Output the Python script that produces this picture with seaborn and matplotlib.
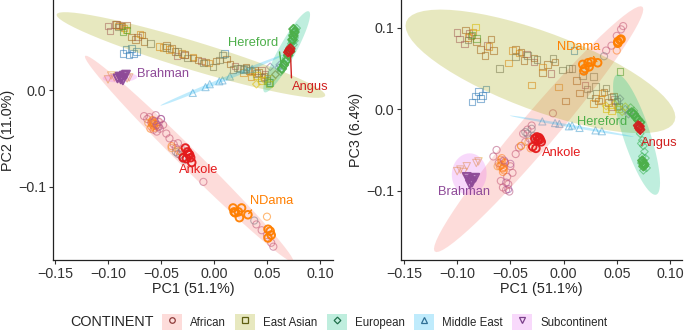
import numpy as np
import pandas as pd
import matplotlib
matplotlib.use("Agg")
import matplotlib.pyplot as plt
import seaborn as sns
from matplotlib.patches import Rectangle
from matplotlib.lines import Line2D
from matplotlib.legend_handler import HandlerTuple

sns.set_style("ticks")
plt.rcParams["font.family"] = ["Liberation Sans", "DejaVu Sans"]
plt.rcParams["axes.unicode_minus"] = True

# ---------------- data ----------------
continents = ["African", "East Asian", "European", "Middle East", "Subcontinent"]

# African
ndama_pc1 = [0.018, 0.020, 0.023, 0.024, 0.026, 0.019, 0.032, 0.051, 0.053, 0.051, 0.054]
ndama_pc2 = [-0.122, -0.127, -0.126, -0.132, -0.122, -0.126, -0.129, -0.144, -0.146, -0.153, -0.150]
ndama_pc3 = [0.055, 0.050, 0.057, 0.052, 0.058, 0.047, 0.057, 0.083, 0.085, 0.081, 0.086]

ankole_pc1 = [-0.029, -0.027, -0.026, -0.025, -0.024, -0.023, -0.022, -0.021]
ankole_pc2 = [-0.070, -0.060, -0.071, -0.064, -0.066, -0.067, -0.070, -0.075]
ankole_pc3 = [-0.046, -0.036, -0.048, -0.034, -0.038, -0.035, -0.037, -0.040]

afr_mauve_pc1 = [-0.066, -0.063, -0.061, -0.059, -0.057, -0.055, -0.054, -0.053, -0.052, -0.051, -0.050, -0.048,
                 -0.045, -0.042, -0.038, -0.036, -0.034, -0.032, -0.030, -0.010, 0.040, 0.045, 0.050, 0.054, 0.056]
afr_mauve_pc2 = [-0.027, -0.030, -0.028, -0.034, -0.041, -0.026, -0.043, -0.038, -0.033, -0.040, -0.030, -0.036,
                 -0.045, -0.050, -0.056, -0.060, -0.055, -0.067, -0.062, -0.095, -0.139, -0.145, -0.150, -0.158, -0.162]
afr_mauve_pc3 = [-0.058, -0.050, -0.066, -0.088, -0.096, -0.065, -0.099, -0.083, -0.092, -0.101, -0.070, -0.078,
                 -0.055, -0.047, -0.030, -0.040, -0.025, -0.036, -0.020, -0.005, 0.072, 0.078, 0.090, 0.098, 0.102]

afr_orange_pc1 = [-0.059, -0.058, -0.057, -0.056, -0.060, -0.058, -0.055, -0.057, -0.059, -0.058, -0.056, -0.057, -0.040, -0.031, 0.050]
afr_orange_pc2 = [-0.033, -0.036, -0.034, -0.039, -0.040, -0.031, -0.037, -0.035, -0.038, -0.032, -0.035, -0.037, -0.058, -0.064, -0.131]
afr_orange_pc3 = [-0.062, -0.068, -0.072, -0.075, -0.070, -0.060, -0.066, -0.073, -0.069, -0.064, -0.071, -0.077, -0.045, -0.048, 0.072]

afr_purple_pc1 = [-0.056, -0.054, -0.052, -0.050]
afr_purple_pc2 = [-0.032, -0.036, -0.038, -0.030]
afr_purple_pc3 = [-0.063, -0.090, -0.098, -0.067]

afr_grey_pc1 = [-0.036, -0.034, -0.030, -0.028, 0.038]
afr_grey_pc2 = [-0.064, -0.066, -0.070, -0.072, -0.135]
afr_grey_pc3 = [-0.028, -0.030, -0.024, -0.033, 0.065]

afr_yellow_pc1 = [-0.040, -0.033, -0.062]
afr_yellow_pc2 = [-0.060, -0.063, -0.034]
afr_yellow_pc3 = [-0.045, -0.040, -0.070]

# East Asian
ea_mauve_pc1 = [-0.100, -0.098, -0.093, -0.089, -0.072, -0.035, 0.045, 0.048, 0.020, -0.028, -0.012]
ea_mauve_pc2 = [0.066, 0.061, 0.068, 0.067, 0.055, 0.035, 0.020, 0.016, 0.025, 0.036, 0.030]
ea_mauve_pc3 = [0.094, 0.086, 0.080, 0.093, 0.078, 0.068, 0.003, 0.012, 0.030, 0.058, 0.044]

ea_brown_pc1 = [-0.092, -0.087, -0.082, -0.078, -0.074, -0.068, -0.066, -0.045, -0.040, -0.037, -0.028, -0.020,
                0.002, 0.012, 0.030, 0.038, 0.015, 0.033, 0.042, 0.047, -0.015, -0.008]
ea_brown_pc2 = [0.068, 0.066, 0.067, 0.055, 0.052, 0.057, 0.050, 0.046, 0.043, 0.040, 0.037, 0.033,
                0.030, 0.032, 0.024, 0.020, 0.027, 0.020, 0.018, 0.014, 0.031, 0.029]
ea_brown_pc3 = [0.097, 0.090, 0.083, 0.073, 0.066, 0.086, 0.072, 0.073, 0.070, 0.060, 0.063, 0.045,
                0.010, 0.035, 0.014, 0.021, 0.020, 0.010, 0.008, 0.016, 0.055, 0.058]

ea_orange_pc1 = [-0.090, -0.085, -0.070, -0.052, -0.048, -0.042, -0.030, -0.005, 0.028, 0.035, 0.050, 0.036, -0.020]
ea_orange_pc2 = [0.066, 0.064, 0.058, 0.045, 0.044, 0.042, 0.038, 0.028, 0.018, 0.014, 0.012, 0.019, 0.034]
ea_orange_pc3 = [0.088, 0.095, 0.077, 0.057, 0.072, 0.069, 0.030, 0.027, 0.007, 0.012, 0.003, 0.020, 0.052]

ea_grey_pc1 = [-0.090, -0.060, -0.034, -0.025, -0.010, -0.001, 0.008, 0.018, 0.022, 0.040, 0.052, 0.025, 0.045,
               0.005, 0.028, 0.050, 0.030, -0.045]
ea_grey_pc2 = [0.065, 0.048, 0.040, 0.033, 0.028, 0.024, 0.036, 0.021, 0.023, 0.017, 0.008, 0.022, 0.013,
               0.031, 0.021, 0.010, 0.022, 0.044]
ea_grey_pc3 = [0.085, 0.050, 0.066, 0.061, 0.062, 0.048, 0.050, 0.041, 0.025, 0.026, 0.004, 0.018, 0.015,
               0.050, 0.040, 0.010, 0.028, 0.064]

ea_yellow_pc1 = [-0.083, 0.040, 0.045, 0.052]
ea_yellow_pc2 = [0.062, 0.015, 0.010, 0.006]
ea_yellow_pc3 = [0.101, 0.001, -0.002, 0.000]

ea_green_pc1 = [-0.082, -0.086, 0.053]
ea_green_pc2 = [0.062, 0.060, 0.008]
ea_green_pc3 = [0.087, 0.091, 0.046]

ea_blue_pc1 = [-0.086, -0.083, -0.080, -0.078, -0.076, -0.073, 0.010]
ea_blue_pc2 = [0.038, 0.042, 0.036, 0.043, 0.038, 0.040, 0.038]
ea_blue_pc3 = [0.009, 0.016, 0.022, 0.013, 0.017, 0.025, 0.072]

# European
hereford_pc1 = [0.064, 0.066, 0.068, 0.070, 0.072, 0.074, 0.075, 0.076, 0.075]
hereford_pc2 = [0.022, 0.026, 0.030, 0.036, 0.040, 0.052, 0.056, 0.060, 0.063]
hereford_pc3 = [-0.004, -0.006, -0.010, -0.013, -0.016, -0.063, -0.066, -0.068, -0.070]

angus_pc1 = [0.070, 0.071, 0.072, 0.0715]
angus_pc2 = [0.039, 0.041, 0.043, 0.040]
angus_pc3 = [-0.020, -0.023, -0.025, -0.021]

eu_green_pc1 = [0.072, 0.074, 0.075, 0.076, 0.077, 0.074, 0.073, 0.075, 0.076, 0.078, 0.073, 0.074, 0.076, 0.075,
                0.066, 0.068, 0.063, 0.070]
eu_green_pc2 = [0.045, 0.050, 0.055, 0.058, 0.062, 0.052, 0.048, 0.060, 0.054, 0.064, 0.042, 0.057, 0.051, 0.047,
                0.028, 0.033, 0.019, 0.036]
eu_green_pc3 = [-0.030, -0.038, -0.045, -0.052, -0.060, -0.064, -0.066, -0.068, -0.070, -0.072, -0.042, -0.058, -0.067, -0.075,
                -0.002, -0.008, 0.002, -0.012]

eu_yellow_pc1 = [0.040, 0.048, 0.055, 0.058]
eu_yellow_pc2 = [0.006, 0.010, 0.012, 0.016]
eu_yellow_pc3 = [0.004, 0.006, -0.003, 0.003]

eu_misc_pc1 = [0.053, 0.058, 0.062, 0.061]
eu_misc_pc2 = [0.024, 0.016, 0.026, 0.023]
eu_misc_pc3 = [0.013, 0.000, -0.004, -0.006]

# Middle East
me_pc1 = [-0.020, -0.008, -0.004, 0.005, 0.008, 0.015, 0.030, 0.036]
me_pc2 = [-0.003, 0.003, 0.006, 0.009, 0.010, 0.014, 0.021, 0.022]
me_pc3 = [-0.015, -0.017, -0.018, -0.021, -0.020, -0.023, -0.026, -0.027]

# Subcontinent
brahman_pc1 = [-0.091, -0.089, -0.087, -0.085, -0.083, -0.086, -0.088]
brahman_pc2 = [0.012, 0.014, 0.013, 0.015, 0.016, 0.010, 0.011]
brahman_pc3 = [-0.083, -0.086, -0.088, -0.085, -0.084, -0.090, -0.092]

sub_other_pc1 = [-0.097, -0.094, -0.091, -0.100, -0.082, -0.080]
sub_other_pc2 = [0.015, 0.013, 0.012, 0.011, 0.012, 0.013]
sub_other_pc3 = [-0.074, -0.077, -0.070, -0.076, -0.066, -0.064]

group_data = {
    "afr_mauve": ("African", afr_mauve_pc1, afr_mauve_pc2, afr_mauve_pc3),
    "afr_orange": ("African", afr_orange_pc1, afr_orange_pc2, afr_orange_pc3),
    "afr_purple": ("African", afr_purple_pc1, afr_purple_pc2, afr_purple_pc3),
    "afr_grey": ("African", afr_grey_pc1, afr_grey_pc2, afr_grey_pc3),
    "afr_yellow": ("African", afr_yellow_pc1, afr_yellow_pc2, afr_yellow_pc3),
    "ea_mauve": ("East Asian", ea_mauve_pc1, ea_mauve_pc2, ea_mauve_pc3),
    "ea_brown": ("East Asian", ea_brown_pc1, ea_brown_pc2, ea_brown_pc3),
    "ea_orange": ("East Asian", ea_orange_pc1, ea_orange_pc2, ea_orange_pc3),
    "ea_grey": ("East Asian", ea_grey_pc1, ea_grey_pc2, ea_grey_pc3),
    "ea_yellow": ("East Asian", ea_yellow_pc1, ea_yellow_pc2, ea_yellow_pc3),
    "ea_green": ("East Asian", ea_green_pc1, ea_green_pc2, ea_green_pc3),
    "ea_blue": ("East Asian", ea_blue_pc1, ea_blue_pc2, ea_blue_pc3),
    "eu_green": ("European", eu_green_pc1, eu_green_pc2, eu_green_pc3),
    "eu_yellow": ("European", eu_yellow_pc1, eu_yellow_pc2, eu_yellow_pc3),
    "eu_misc": ("European", eu_misc_pc1, eu_misc_pc2, eu_misc_pc3),
    "me": ("Middle East", me_pc1, me_pc2, me_pc3),
    "sub_other": ("Subcontinent", sub_other_pc1, sub_other_pc2, sub_other_pc3),
    "NDama": ("African", ndama_pc1, ndama_pc2, ndama_pc3),
    "Ankole": ("African", ankole_pc1, ankole_pc2, ankole_pc3),
    "Hereford": ("European", hereford_pc1, hereford_pc2, hereford_pc3),
    "Angus": ("European", angus_pc1, angus_pc2, angus_pc3),
    "Brahman": ("Subcontinent", brahman_pc1, brahman_pc2, brahman_pc3),
}

rows = []
for g, (cont, a, b, c) in group_data.items():
    for x1, x2, x3 in zip(a, b, c):
        rows.append((g, cont, x1, x2, x3))
df = pd.DataFrame(rows, columns=["group", "continent", "PC1", "PC2", "PC3"])

# ---------------- styles ----------------
cont_fill = {"African": "#F8766D", "East Asian": "#A3A500", "European": "#00BF7D",
             "Middle East": "#00B0F6", "Subcontinent": "#E76BF3"}
cont_key = {"African": "#8E3B3B", "East Asian": "#5E5E10", "European": "#1F6F4A",
            "Middle East": "#2F6F95", "Subcontinent": "#7A3F8A"}
cont_marker = {"African": "o", "East Asian": "s", "European": "D", "Middle East": "^", "Subcontinent": "v"}
cont_size = {"African": 26, "East Asian": 22, "European": 15, "Middle East": 26, "Subcontinent": 28}

faded_color = {
    "afr_mauve": "#B4507A", "afr_orange": "#FF7F00", "afr_purple": "#984EA3", "afr_grey": "#5F7F8F",
    "afr_yellow": "#F0A020", "ea_mauve": "#A8507A", "ea_brown": "#A65628", "ea_orange": "#E8801A",
    "ea_grey": "#707070", "ea_yellow": "#E8C000", "ea_green": "#3E9A3B", "ea_blue": "#377EB8",
    "eu_green": "#4DAF4A", "eu_yellow": "#F2C400", "eu_misc": "#8A6FA8", "me": "#4FA3D1",
    "sub_other": "#E0A030",
}
bold_color = {"NDama": "#FF7F00", "Ankole": "#E41A1C", "Hereford": "#4DAF4A",
              "Angus": "#D0201F", "Brahman": "#8E4A98"}

labels_layout = {
    "PC2": {"Brahman": (-0.0725, 0.0165, None, None, "left"),
            "Ankole": (-0.014, -0.0825, None, None, "center"),
            "NDama": (0.054, -0.1144, 6, (0.1, 0.0), "center"),
            "Hereford": (0.037, 0.049, 0, (1.0, 0.5), "center"),
            "Angus": (0.0905, 0.003, 2, (0.0, 1.0), "center")},
    "PC3": {"Brahman": (-0.094, -0.102, None, None, "center"),
            "Ankole": (-0.002, -0.054, None, None, "center"),
            "NDama": (0.014, 0.076, 6, (0.8, 0.0), "center"),
            "Hereford": (0.036, -0.016, None, None, "center"),
            "Angus": (0.090, -0.042, 1, (0.0, 1.0), "center")},
}


def ellipse_points(x, y, level=0.95, segments=60):
    """95% normal-theory data ellipse, radius = sqrt(2 * qf(level, 2, n - 1))."""
    data = np.column_stack([x, y]).astype(float)
    n = len(data)
    dfd = n - 1
    fq = dfd / 2.0 * ((1 - level) ** (-2.0 / dfd) - 1)   # qf(level, 2, dfd)
    radius = np.sqrt(2 * fq)
    center = data.mean(axis=0)
    U = np.linalg.cholesky(np.cov(data.T)).T
    ang = np.linspace(0, 2 * np.pi, segments + 1)
    circ = np.column_stack([np.cos(ang), np.sin(ang)])
    pts = center + radius * circ @ U
    return pts[:, 0], pts[:, 1]


fig = plt.figure(figsize=(6.85, 3.34), dpi=100)
ax1 = fig.add_axes([53 / 685, 74 / 334, 280 / 685, 260 / 334])
ax2 = fig.add_axes([401 / 685, 74 / 334, 281 / 685, 260 / 334])

panels = [(ax1, "PC2", "PC2 (11.0%)", (-0.1519, 0.1123), (-0.1758, 0.0931), [-0.1, 0.0], "{:.1f}"),
          (ax2, "PC3", "PC3 (6.4%)", (-0.1528, 0.1113), (-0.185, 0.134), [-0.1, 0.0, 0.1], "{:.1f}")]

faded_groups = list(faded_color.keys())
bold_groups = list(bold_color.keys())

for ax, ycol, ylabel, xlim, ylim, yticks, yfmt in panels:
    for g in faded_groups:
        sub = df[df.group == g]
        cont = sub.continent.iloc[0]
        sns.scatterplot(data=sub, x="PC1", y=ycol, ax=ax, marker=cont_marker[cont], s=cont_size[cont],
                        facecolor="none", edgecolor=faded_color[g], linewidth=0.8, alpha=0.55,
                        legend=False, zorder=2)
    for cont in continents:
        sub = df[df.continent == cont]
        ex, ey = ellipse_points(sub.PC1.values, sub[ycol].values)
        ax.fill(ex, ey, color=cont_fill[cont], alpha=0.25, lw=0, zorder=3)
    for g in bold_groups:
        sub = df[df.group == g]
        cont = sub.continent.iloc[0]
        sns.scatterplot(data=sub, x="PC1", y=ycol, ax=ax, marker=cont_marker[cont], s=cont_size[cont] + 4,
                        facecolor="none", edgecolor=bold_color[g], linewidth=1.4, alpha=0.95,
                        legend=False, zorder=4)
    for g, (tx, ty, idx, relpos, ha) in labels_layout[ycol].items():
        sub = df[df.group == g].reset_index(drop=True)
        if idx is None:
            ax.text(tx, ty, g, color=bold_color[g], fontsize=9.3, ha=ha, va="center", zorder=5)
        else:
            ax.annotate(g, xy=(sub.PC1[idx], sub[ycol][idx]), xytext=(tx, ty), color=bold_color[g],
                        fontsize=9.3, ha=ha, va="center", zorder=5,
                        arrowprops=dict(arrowstyle="-", color=bold_color[g], lw=1.0,
                                        relpos=relpos, shrinkA=0, shrinkB=1))

    ax.set_xlim(*xlim)
    ax.set_ylim(*ylim)
    xt = [-0.15, -0.10, -0.05, 0.00, 0.05, 0.10]
    ax.set_xticks(xt)
    ax.set_xticklabels([("{:.2f}".format(v)).replace("-", "\u2212") for v in xt])
    ax.set_yticks(yticks)
    ax.set_yticklabels([yfmt.format(v).replace("-", "\u2212") for v in yticks])
    ax.tick_params(axis="both", labelsize=10.3, labelcolor="#333333", length=3, width=0.8, color="#333333", pad=2)
    ax.set_xlabel("PC1 (51.1%)", fontsize=10.4, labelpad=1)
    ax.set_ylabel(ylabel, fontsize=10.4, labelpad=2)
    for side in ["top", "right"]:
        ax.spines[side].set_visible(False)
    for side in ["left", "bottom"]:
        ax.spines[side].set_linewidth(0.9)
        ax.spines[side].set_color("#222222")
    ax.grid(False)

# legend (bottom row, centred at y = 322 px from the top)
leg_y = (334 - 322) / 334
handles = []
for cont in continents:
    patch = Rectangle((0, 0), 1, 1, facecolor=cont_fill[cont], alpha=0.25, lw=0)
    mk = Line2D([], [], ls="", marker=cont_marker[cont], markersize=4 if cont != "European" else 3.4,
                markerfacecolor="none", markeredgecolor=cont_key[cont], markeredgewidth=0.9)
    handles.append((patch, mk))
fig.text(70 / 685, leg_y, "CONTINENT", fontsize=10.4, ha="left", va="center")
fig.legend(handles, continents, handler_map={tuple: HandlerTuple(ndivide=1)}, ncol=5,
           loc="center left", bbox_to_anchor=(162 / 685, leg_y), frameon=False,
           fontsize=8.3, handlelength=1.74, handleheight=1.74, handletextpad=0.7,
           columnspacing=0.8, borderpad=0, borderaxespad=0)

fig.savefig("out.png", dpi=100)
